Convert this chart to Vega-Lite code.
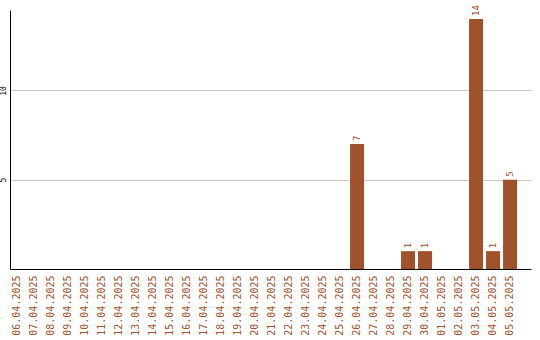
{
  "$schema": "https://vega.github.io/schema/vega-lite/v6.json",
  "width": 521,
  "height": 259,
  "autosize": "none",
  "padding": {"left": 10, "top": 10, "right": 9, "bottom": 71},
  "background": "white",
  "config": {
    "view": {"stroke": null},
    "font": "DejaVu Sans Mono"
  },
  "data": {
    "values": [
      {"date": "06.04.2025", "count": 0},
      {"date": "07.04.2025", "count": 0},
      {"date": "08.04.2025", "count": 0},
      {"date": "09.04.2025", "count": 0},
      {"date": "10.04.2025", "count": 0},
      {"date": "11.04.2025", "count": 0},
      {"date": "12.04.2025", "count": 0},
      {"date": "13.04.2025", "count": 0},
      {"date": "14.04.2025", "count": 0},
      {"date": "15.04.2025", "count": 0},
      {"date": "16.04.2025", "count": 0},
      {"date": "17.04.2025", "count": 0},
      {"date": "18.04.2025", "count": 0},
      {"date": "19.04.2025", "count": 0},
      {"date": "20.04.2025", "count": 0},
      {"date": "21.04.2025", "count": 0},
      {"date": "22.04.2025", "count": 0},
      {"date": "23.04.2025", "count": 0},
      {"date": "24.04.2025", "count": 0},
      {"date": "25.04.2025", "count": 0},
      {"date": "26.04.2025", "count": 7},
      {"date": "27.04.2025", "count": 0},
      {"date": "28.04.2025", "count": 0},
      {"date": "29.04.2025", "count": 1},
      {"date": "30.04.2025", "count": 1},
      {"date": "01.05.2025", "count": 0},
      {"date": "02.05.2025", "count": 0},
      {"date": "03.05.2025", "count": 14},
      {"date": "04.05.2025", "count": 1},
      {"date": "05.05.2025", "count": 5}
    ]
  },
  "encoding": {
    "x": {
      "field": "date",
      "type": "ordinal",
      "sort": null,
      "title": null,
      "scale": {"paddingInner": 0.176, "paddingOuter": 0.41, "align": 0},
      "axis": {
        "labelAngle": -90,
        "labelAlign": "right",
        "labelBaseline": "middle",
        "labelColor": "#A0522D",
        "labelFont": "DejaVu Sans Mono",
        "labelFontSize": 10,
        "labelPadding": 6,
        "ticks": false,
        "domainColor": "black",
        "domainWidth": 1,
        "grid": false
      }
    },
    "y": {
      "field": "count",
      "type": "quantitative",
      "title": null,
      "scale": {"domain": [0, 14.5], "nice": false},
      "axis": {
        "values": [5, 10],
        "labelAngle": -90,
        "labelAlign": "center",
        "labelBaseline": "bottom",
        "labelColor": "black",
        "labelFont": "DejaVu Sans Mono",
        "labelFontSize": 8,
        "labelPadding": 3,
        "ticks": false,
        "domainColor": "black",
        "domainWidth": 1,
        "grid": true,
        "gridColor": "#c8c8c8",
        "gridWidth": 1
      }
    }
  },
  "layer": [
    {
      "mark": {"type": "bar", "color": "#A0522D"}
    },
    {
      "transform": [{"filter": "datum.count > 0"}],
      "mark": {
        "type": "text",
        "angle": 270,
        "align": "left",
        "baseline": "middle",
        "dx": 3,
        "color": "#A0522D",
        "font": "DejaVu Sans Mono",
        "fontSize": 9
      },
      "encoding": {
        "text": {"field": "count", "type": "quantitative"}
      }
    }
  ]
}
